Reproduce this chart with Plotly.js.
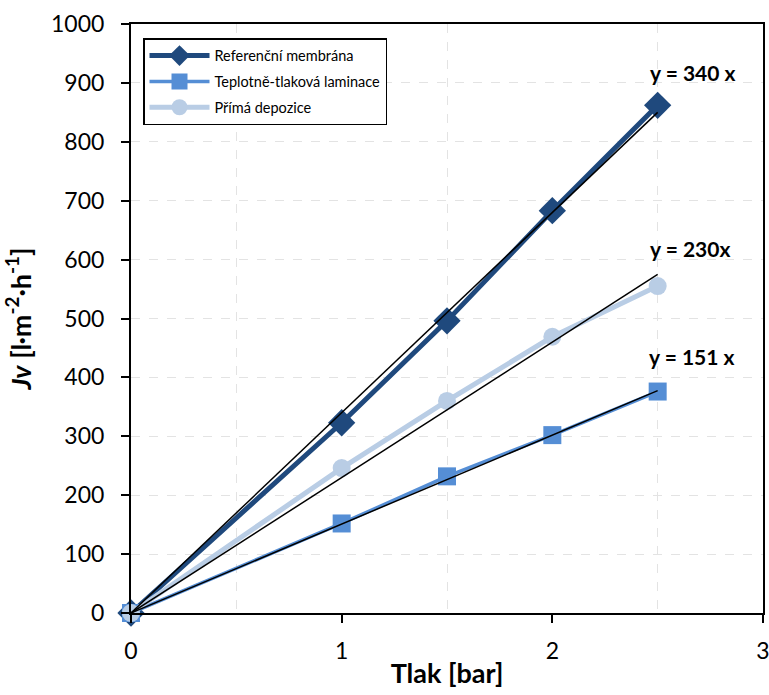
<!DOCTYPE html>
<html>
<head>
<meta charset="utf-8">
<script src="https://cdn.plot.ly/plotly-3.0.1.min.js"></script>
<style>html,body{margin:0;padding:0;background:#fff}#chart{width:769px;height:695px}</style>
</head>
<body>
<div id="chart"></div>
<script>
const pressure = [0, 1, 1.5, 2, 2.5];
const refMembrane = [0, 323, 496, 683, 862];
const thermoLamination = [0, 152, 232, 302, 376];
const directDeposition = [0, 246, 360, 469, 555];
const fitX = [0, 2.5];
const fitRef = [0, 850];
const fitDirect = [0, 575];
const fitThermo = [0, 377.5];
const seriesNames = ["Referenční membrána", "Teplotně-tlaková laminace", "Přímá depozice"];
const fitLabels = ["y = 340 x", "y = 230x", "y = 151 x"];

const font = "Lato, 'Open Sans', sans-serif";
const traces = [
  {x: pressure, y: refMembrane, name: seriesNames[0], legendgroup: "a", mode: "lines+markers", cliponaxis: false,
   line: {color: "#1F497D", width: 5}, marker: {symbol: "diamond", size: 21, color: "#1F497D"}},
  {x: pressure, y: thermoLamination, name: seriesNames[1], legendgroup: "b", mode: "lines+markers", cliponaxis: false,
   line: {color: "#558ED5", width: 3.5}, marker: {symbol: "square", size: 18, color: "#558ED5"}},
  {x: pressure, y: directDeposition, name: seriesNames[2], legendgroup: "c", mode: "lines+markers", cliponaxis: false,
   line: {color: "#B9CDE5", width: 5}, marker: {symbol: "circle", size: 18, color: "#B9CDE5"}},
  {x: fitX, y: fitRef, mode: "lines", showlegend: false, hoverinfo: "skip", line: {color: "#000", width: 1.5}},
  {x: fitX, y: fitDirect, mode: "lines", showlegend: false, hoverinfo: "skip", line: {color: "#000", width: 1.5}},
  {x: fitX, y: fitThermo, mode: "lines", showlegend: false, hoverinfo: "skip", line: {color: "#000", width: 1.5}}
];

const layout = {
  width: 769, height: 695,
  margin: {l: 131, r: 6, t: 24, b: 82},
  paper_bgcolor: "#fff", plot_bgcolor: "#fff",
  font: {family: font, size: 23, color: "#000"},
  showlegend: true,
  legend: {x: 0.019, y: 0.976, xanchor: "left", yanchor: "top",
    bordercolor: "#000", borderwidth: 1.5, bgcolor: "#fff",
    font: {family: font, size: 14.5, color: "#000"}, tracegroupgap: 4, itemwidth: 60},
  xaxis: {range: [0, 3], dtick: 1, tick0: 0, ticks: "outside", ticklen: 8, tickwidth: 2, tickcolor: "#000",
    ticklabelstandoff: 8, ticklabeloverflow: "allow",
    showline: true, linecolor: "#000", linewidth: 2, mirror: true,
    showgrid: false, zeroline: false,
    minor: {dtick: 0.5, showgrid: true, gridcolor: "#E3E3E3", griddash: "dash", gridwidth: 1},
    title: {text: "<b>Tlak [bar]</b>", font: {family: font, size: 27}, standoff: 2}},
  yaxis: {range: [0, 1000], dtick: 100, ticks: "outside", ticklen: 8, tickwidth: 2, tickcolor: "#000",
    ticklabelstandoff: 12,
    showline: true, linecolor: "#000", linewidth: 2, mirror: true,
    showgrid: true, gridcolor: "#E3E3E3", griddash: "dash", gridwidth: 1, zeroline: false,
    title: {text: "<b><i>Jv</i> [l·m<sup>-2</sup>·h<sup>-1</sup>]</b>", font: {family: font, size: 27}, standoff: 12}},
  annotations: [
    {x: 2.5, y: 850, text: "<b>" + fitLabels[0] + "</b>", showarrow: false, yshift: 40, xshift: 35, font: {family: font, size: 21}},
    {x: 2.5, y: 575, text: "<b>" + fitLabels[1] + "</b>", showarrow: false, yshift: 26, xshift: 32, font: {family: font, size: 21}},
    {x: 2.5, y: 377.5, text: "<b>" + fitLabels[2] + "</b>", showarrow: false, yshift: 34, xshift: 34, font: {family: font, size: 21}}
  ]
};
Plotly.newPlot("chart", traces, layout, {displayModeBar: false, staticPlot: true});
</script>
</body>
</html>
